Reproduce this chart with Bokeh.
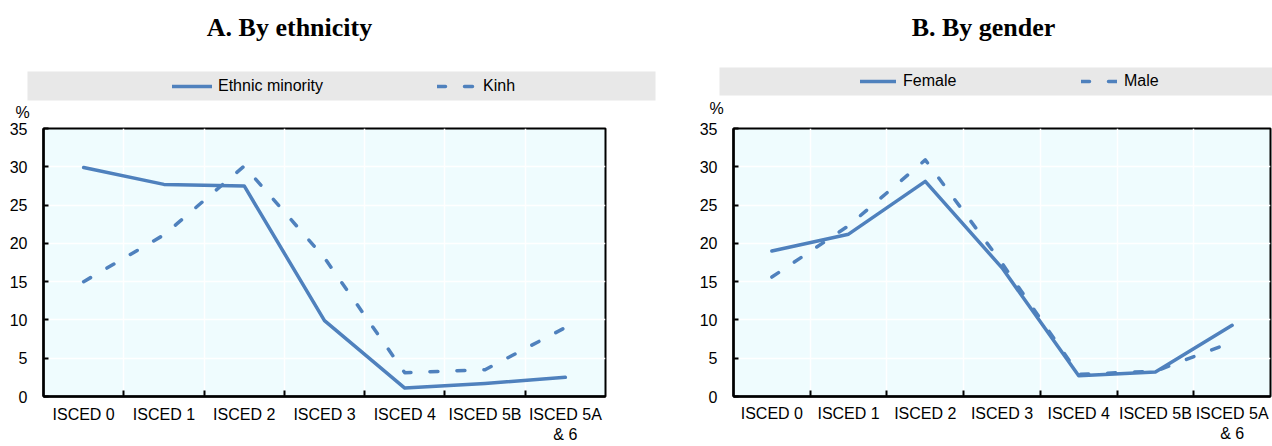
from bokeh.plotting import figure
from bokeh.models import (FixedTicker, Range1d, Legend, LegendItem, Label,
                          BoxAnnotation)
from bokeh.layouts import row, column
from bokeh.embed import file_html
from bokeh.resources import INLINE

# ---------------- data ----------------
categories = ["ISCED 0", "ISCED 1", "ISCED 2", "ISCED 3", "ISCED 4",
              "ISCED 5B", "ISCED 5A\n& 6"]
ethnic_minority = [29.9, 27.7, 27.5, 9.9, 1.1, 1.7, 2.5]
kinh = [15.0, 21.1, 30.1, 18.1, 3.1, 3.5, 9.0]
female = [19.0, 21.2, 28.1, 16.8, 2.7, 3.2, 9.3]
male = [15.6, 22.3, 30.9, 17.4, 2.9, 3.3, 7.1]
y_ticks = [0, 5, 10, 15, 20, 25, 30, 35]

panel_a_title = "A. By ethnicity"
panel_b_title = "B. By gender"
series_a = ["Ethnic minority", "Kinh"]
series_b = ["Female", "Male"]

# ---------------- style ----------------
LINE_COLOR = "#4F81BD"
BG = "#EFFCFE"
LEGEND_BG = "#E8E8E8"
SANS = "Liberation Sans"
SERIF = "Liberation Serif"
DASH = "8 19"
LW = 3.5
HEADER_H = 120
XS = [i + 0.5 for i in range(len(categories))]


def line_style(dashed):
    kw = dict(line_color=LINE_COLOR, line_width=LW, line_cap="round",
              line_join="round")
    if dashed:
        kw["line_dash"] = DASH
    return kw


# ---------------- shared header (titles, legends, "%") ----------------
header = figure(width=1272, height=HEADER_H, output_backend="svg",
                toolbar_location=None, title=None,
                x_range=Range1d(-200, -199), y_range=Range1d(-200, -199),
                x_axis_type=None, y_axis_type=None,
                min_border=0, min_border_left=0, min_border_right=0,
                min_border_top=0, min_border_bottom=0)
header.outline_line_color = None
header.background_fill_color = "white"
header.border_fill_color = "white"
header.xgrid.visible = False
header.ygrid.visible = False


def add_header_panel(title, names, solid, dashed, g):
    box = BoxAnnotation(left=g["box"][0], right=g["box"][1],
                        bottom=g["box"][2], top=g["box"][3],
                        left_units="screen", right_units="screen",
                        bottom_units="screen", top_units="screen",
                        fill_color=LEGEND_BG, fill_alpha=1.0,
                        line_alpha=0, level="underlay")
    header.add_layout(box)
    # legend proxies (same series, outside the visible header range)
    r1 = header.line(XS, solid, **line_style(False))
    r2 = header.line(XS, dashed, **line_style(True))
    legend = Legend(items=[LegendItem(label=names[0], renderers=[r1]),
                           LegendItem(label=names[1], renderers=[r2])],
                    orientation="horizontal", location=g["leg_loc"],
                    label_width=g["label_w"], glyph_width=g["glyph_w"],
                    glyph_height=20, label_height=20,
                    label_standoff=g["stand"], spacing=0, padding=0, margin=0,
                    background_fill_alpha=0, border_line_alpha=0,
                    label_text_font=SANS, label_text_font_size="16px",
                    label_text_color="black")
    header.add_layout(legend)
    header.add_layout(Label(x=g["title_xy"][0], y=g["title_xy"][1],
                            x_units="screen", y_units="screen", text=title,
                            text_font=SERIF, text_font_style="bold",
                            text_font_size="26px", text_color="black",
                            text_align="center", text_baseline="middle"))
    header.add_layout(Label(x=g["pct_xy"][0], y=g["pct_xy"][1],
                            x_units="screen", y_units="screen", text="%",
                            text_font=SANS, text_font_size="16px",
                            text_color="black", text_align="center",
                            text_baseline="middle"))


def make_panel(solid, dashed, g):
    n = len(categories)
    p = figure(width=g["width"], height=446 - HEADER_H, output_backend="svg",
               toolbar_location=None, title=None, x_range=Range1d(0, n),
               y_range=Range1d(0, 35),
               min_border_left=g["bl"], min_border_right=g["br"],
               min_border_top=g["bt"], min_border_bottom=g["bb"])
    p.background_fill_color = BG
    p.border_fill_color = "white"
    p.outline_line_color = "black"
    p.outline_line_width = 2

    p.xgrid.ticker = FixedTicker(ticks=list(range(1, n)))
    p.xgrid.grid_line_color = "white"
    p.xgrid.grid_line_width = 1.5
    p.ygrid.ticker = FixedTicker(ticks=y_ticks)
    p.ygrid.grid_line_color = "white"
    p.ygrid.grid_line_width = 1.5

    xa = p.xaxis[0]
    xa.ticker = FixedTicker(ticks=XS, minor_ticks=list(range(1, n)))
    xa.major_label_overrides = {x: c for x, c in zip(XS, categories)}
    xa.major_tick_in = 0
    xa.major_tick_out = 0
    xa.minor_tick_in = 6
    xa.minor_tick_out = 0
    xa.minor_tick_line_color = "black"
    xa.minor_tick_line_width = 2
    xa.axis_line_color = "black"
    xa.axis_line_width = 2.5
    xa.major_label_text_font = SANS
    xa.major_label_text_font_size = "16px"
    xa.major_label_text_color = "black"
    xa.major_label_standoff = g["xstand"]

    ya = p.yaxis[0]
    ya.ticker = FixedTicker(ticks=y_ticks)
    ya.major_tick_in = 5
    ya.major_tick_out = 0
    ya.major_tick_line_color = "black"
    ya.major_tick_line_width = 2
    ya.minor_tick_line_color = None
    ya.axis_line_color = "black"
    ya.axis_line_width = 2.5
    ya.major_label_text_font = SANS
    ya.major_label_text_font_size = "16px"
    ya.major_label_text_color = "black"
    ya.major_label_standoff = g["ystand"]

    p.line(XS, solid, **line_style(False))
    p.line(XS, dashed, **line_style(True))
    return p


# header coordinates: x from canvas left, y from header bottom (height 120)
hdr_a = dict(box=(27, 655, 20, 49), leg_loc=(172, 24.5), label_w=219,
             glyph_w=40, stand=6, title_xy=(289, 93), pct_xy=(22, 8))
hdr_b = dict(box=(719, 1272, 25, 53), leg_loc=(860, 29), label_w=178,
             glyph_w=36, stand=7, title_xy=(983, 93), pct_xy=(716, 12))
add_header_panel(panel_a_title, series_a, ethnic_minority, kinh, hdr_a)
add_header_panel(panel_b_title, series_b, female, male, hdr_b)

# frame A: x 43..605, y 128..401 ; frame B: x 733..1270, y 126..396
geo_a = dict(width=655, bl=43, br=50, bt=8, bb=45, ystand=16, xstand=9)
geo_b = dict(width=617, bl=78, br=2, bt=6, bb=50, ystand=16, xstand=8)
p1 = make_panel(ethnic_minority, kinh, geo_a)
p2 = make_panel(female, male, geo_b)

layout = column(header, row(p1, p2, spacing=0), spacing=0)
open("out.html", "w").write(file_html(layout, INLINE))
